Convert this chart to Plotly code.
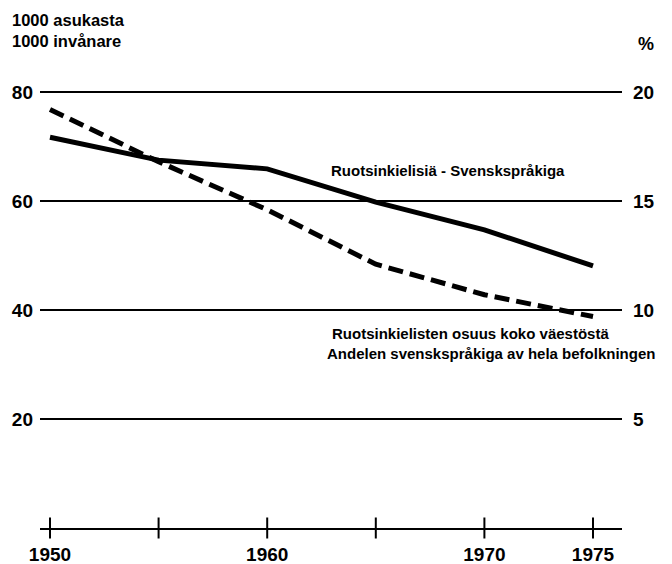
import plotly.graph_objects as go

# ---- data ----
years = [1950, 1955, 1960, 1965, 1970, 1975]
swedish_speakers = [71.7, 67.5, 65.9, 59.8, 54.7, 48.1]   # left axis, 1000 inhabitants
share_pct = [19.2, 16.8, 14.6, 12.1, 10.7, 9.7]           # right axis, %
tick_years = [1950, 1955, 1960, 1965, 1970, 1975]
label_years = [1950, 1960, 1970, 1975]
left_ticks = [20, 40, 60, 80]
right_ticks = [5, 10, 15, 20]

OFF = 8                      # page body margin
W, H = 672 - OFF, 564 - OFF
ML, MR, MT, MB = 40 - OFF, 672 - 622, 70 - OFF, 564 - 528
PW, PH = W - ML - MR, H - MT - MB
Y_MAX = 84.04
FONT = "Liberation Sans, Arial, Helvetica, sans-serif"


def px(x, y):
    # page pixel -> paper coordinates
    return (x - OFF - ML) / PW, (H - MB - (y - OFF)) / PH


fig = go.Figure()

fig.add_trace(go.Scatter(
    x=years, y=swedish_speakers, mode="lines",
    line=dict(color="black", width=5), yaxis="y", showlegend=False))

fig.add_trace(go.Scatter(
    x=years, y=share_pct, mode="lines",
    line=dict(color="black", width=5, dash="15px,7px"), yaxis="y2", showlegend=False))

# crossing tick marks on the x axis
fig.add_trace(go.Scatter(
    x=tick_years, y=[0] * len(tick_years), mode="markers", yaxis="y",
    marker=dict(symbol="line-ns", size=15, line=dict(color="black", width=2)),
    cliponaxis=False, showlegend=False, hoverinfo="skip"))

annots = []


def add_text(text, x, y, size, anchor="left", bold=True):
    xp, yp = px(x, y)
    annots.append(dict(
        text=text, x=xp, y=yp, xref="paper", yref="paper", showarrow=False,
        xanchor=anchor, yanchor="middle",
        font=dict(family=FONT, size=size, color="black", weight="bold" if bold else "normal")))


add_text("1000 asukasta", 10, 20, 16.5)
add_text("1000 invånare", 10, 41, 16.5)
add_text("%", 646, 44, 18, anchor="center")
add_text("Ruotsinkielisiä - Svenskspråkiga", 329, 170, 15)
add_text("Ruotsinkielisten osuus koko väestöstä", 330, 333, 15)
add_text("Andelen svenskspråkiga av hela befolkningen", 325, 353, 15)

fig.update_layout(
    width=W, height=H,
    margin=dict(l=ML, r=MR, t=MT, b=MB, pad=0, autoexpand=False),
    paper_bgcolor="white", plot_bgcolor="white",
    annotations=annots,
    xaxis=dict(
        range=[1949.54, 1976.335], tickvals=label_years, ticktext=[str(v) for v in label_years],
        showgrid=False, zeroline=False, showline=True, linecolor="black", linewidth=2,
        ticks="", tickfont=dict(family=FONT, size=19, color="black", weight="bold"),
        ticklabelstandoff=8, automargin=False),
    yaxis=dict(
        range=[0, Y_MAX], tickvals=left_ticks, ticktext=[str(v) for v in left_ticks],
        showgrid=True, gridcolor="black", gridwidth=1.5, zeroline=False, showline=False,
        ticks="", tickfont=dict(family=FONT, size=19, color="black", weight="bold"),
        ticklabelstandoff=6, automargin=False),
    yaxis2=dict(
        range=[0, Y_MAX / 4], overlaying="y", side="right", tickvals=right_ticks,
        ticktext=[str(v) for v in right_ticks], showgrid=False, zeroline=False,
        showline=False, ticks="", automargin=False,
        tickfont=dict(family=FONT, size=19, color="black", weight="bold"),
        ticklabelstandoff=10),
)

fig.write_html("out.html")
